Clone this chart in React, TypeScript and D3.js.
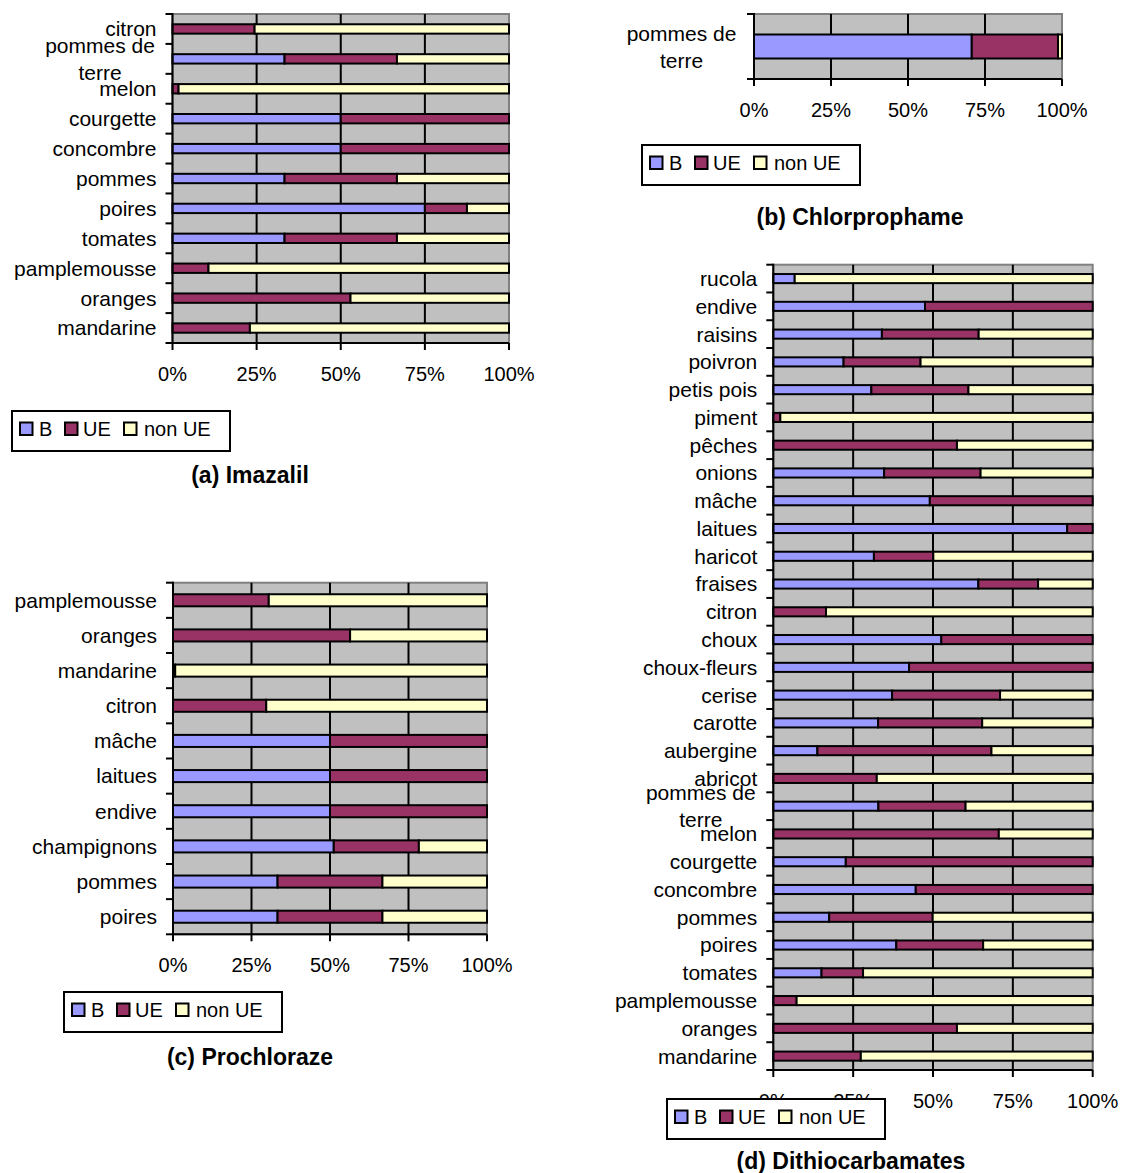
import React from 'react';
import * as d3 from 'd3';

const SERIES = ['B', 'UE', 'non UE'];
const COLORS = ['#9999FF', '#993366', '#FFFFCC'];
const X_TICKS = [0, 25, 50, 75, 100];

// (a) Imazalil — categories top to bottom
const catsA = ['citron', 'pommes de terre', 'melon', 'courgette', 'concombre', 'pommes', 'poires', 'tomates', 'pamplemousse', 'oranges', 'mandarine'];
const bA = [0, 33.3, 0, 50, 50, 33.3, 75, 33.3, 0, 0, 0];
const ueA = [24.4, 33.4, 1.8, 50, 50, 33.4, 12.5, 33.4, 10.7, 52.9, 23];
const nonA = [75.6, 33.3, 98.2, 0, 0, 33.3, 12.5, 33.3, 89.3, 47.1, 77];

// (b) Chlorprophame
const catsB = ['pommes de terre'];
const bB = [70.7];
const ueB = [28];
const nonB = [1.3];

// (c) Prochloraze
const catsC = ['pamplemousse', 'oranges', 'mandarine', 'citron', 'mâche', 'laitues', 'endive', 'champignons', 'pommes', 'poires'];
const bC = [0, 0, 0, 0, 50, 50, 50, 51.2, 33.3, 33.3];
const ueC = [30.5, 56.4, 0.7, 29.7, 50, 50, 50, 27.1, 33.4, 33.4];
const nonC = [69.5, 43.6, 99.3, 70.3, 0, 0, 0, 21.7, 33.3, 33.3];

// (d) Dithiocarbamates
const catsD = ['rucola', 'endive', 'raisins', 'poivron', 'petis pois', 'piment', 'pêches', 'onions', 'mâche', 'laitues', 'haricot', 'fraises', 'citron', 'choux', 'choux-fleurs', 'cerise', 'carotte', 'aubergine', 'abricot', 'pommes de terre', 'melon', 'courgette', 'concombre', 'pommes', 'poires', 'tomates', 'pamplemousse', 'oranges', 'mandarine'];
const bD = [6.7, 47.5, 34, 22, 30.7, 0, 0, 34.7, 49, 92, 31.5, 64.2, 0, 52.6, 42.5, 37.2, 32.8, 13.8, 0, 32.9, 0, 22.7, 44.6, 17.5, 38.5, 15.1, 0, 0, 0];
const ueD = [0, 52.5, 30.3, 24.1, 30.4, 2.2, 57.5, 30.2, 51, 8, 18.6, 18.7, 16.5, 47.4, 57.5, 33.8, 32.6, 54.5, 32.4, 27.3, 70.6, 77.3, 55.4, 32.4, 27.2, 13, 7.3, 57.5, 27.4];
const nonD = [93.3, 0, 35.7, 53.9, 38.9, 97.8, 42.5, 35.1, 0, 0, 49.9, 17.1, 83.5, 0, 0, 29, 34.6, 31.7, 67.6, 39.8, 29.4, 0, 0, 50.1, 34.3, 71.9, 92.7, 42.5, 72.6];

const FONT = 'Liberation Sans, Arial, Helvetica, sans-serif';

type PanelProps = {
  cats: string[];
  b: number[];
  ue: number[];
  non: number[];
  x0: number; x1: number; y0: number; y1: number;
  pad: number;
  legendX: number; legendY: number;
  title: string; titleX: number; titleY: number;
};

function Panel(p: PanelProps) {
  const x = d3.scaleLinear().domain([0, 100]).range([p.x0, p.x1]);
  const y = d3.scaleBand<string>().domain(p.cats).range([p.y0, p.y1]).paddingInner(p.pad).paddingOuter(p.pad / 2);
  const step = y.step();
  const rows = p.cats.map((c, i) => ({ cat: c, B: p.b[i], UE: p.ue[i], 'non UE': p.non[i] }));
  const stacked = d3.stack<any>().keys(SERIES)(rows);
  const boundaries = d3.range(p.cats.length + 1).map(i => p.y0 + i * step);
  const bw = y.bandwidth();

  return (
    <g>
      <rect x={p.x0} y={p.y0} width={p.x1 - p.x0} height={p.y1 - p.y0} fill="#C0C0C0" stroke="#808080" strokeWidth={2} />
      {X_TICKS.slice(1, -1).map(t => (
        <line key={'g' + t} x1={x(t)} x2={x(t)} y1={p.y0} y2={p.y1} stroke="#000" strokeWidth={2} />
      ))}
      {stacked.map((s, si) => (
        <g key={SERIES[si]}>
          {s.map((d, i) => {
            const w = x(d[1]) - x(d[0]);
            if (w <= 0.01) return null;
            return (
              <rect key={i} x={x(d[0])} y={(y(p.cats[i]) as number) + 1} width={w} height={bw - 2}
                fill={COLORS[si]} stroke="#000" strokeWidth={2} />
            );
          })}
        </g>
      ))}
      {/* left axis */}
      <line x1={p.x0} x2={p.x0} y1={p.y0 - 1} y2={p.y1 + 1} stroke="#000" strokeWidth={2} />
      {boundaries.map((by, i) => (
        <line key={'lt' + i} x1={p.x0 - 7} x2={p.x0} y1={by} y2={by} stroke="#000" strokeWidth={2} />
      ))}
      {/* bottom axis */}
      <line x1={p.x0} x2={p.x1} y1={p.y1} y2={p.y1} stroke="#000" strokeWidth={2} />
      {X_TICKS.map(t => (
        <g key={'bt' + t}>
          <line x1={x(t)} x2={x(t)} y1={p.y1} y2={p.y1 + 7} stroke="#000" strokeWidth={2} />
          <text x={x(t)} y={p.y1 + 38} textAnchor="middle" fontSize={20} fontFamily={FONT} fill="#000">{t + '%'}</text>
        </g>
      ))}
      {/* category labels */}
      {p.cats.map(c => {
        const cy = (y(c) as number) + bw / 2;
        const words = c.split(' ');
        if (words.length > 2) {
          const l1 = words.slice(0, -1).join(' ');
          const l2 = words[words.length - 1];
          return (
            <text key={'c' + c} x={p.x0 - 72.5} textAnchor="middle" fontSize={21} fontFamily={FONT} fill="#000">
              <tspan x={p.x0 - 72.5} y={cy - 6}>{l1}</tspan>
              <tspan x={p.x0 - 72.5} y={cy + 21}>{l2}</tspan>
            </text>
          );
        }
        return (
          <text key={'c' + c} x={p.x0 - 16} y={cy + 7.4} textAnchor="end" fontSize={21} fontFamily={FONT} fill="#000">{c}</text>
        );
      })}
      {/* legend */}
      <g transform={`translate(${p.legendX},${p.legendY})`}>
        <rect x={0} y={0} width={218} height={40} fill="#fff" stroke="#000" strokeWidth={2} />
        {SERIES.map((s, i) => {
          const sx = [8, 53, 112][i];
          const tx = [27, 71, 132][i];
          return (
            <g key={s}>
              <rect x={sx} y={11.5} width={12.5} height={12.5} fill={COLORS[i]} stroke="#000" strokeWidth={2} />
              <text x={tx} y={24.5} fontSize={20} fontFamily={FONT} fill="#000">{s}</text>
            </g>
          );
        })}
      </g>
      <text x={p.titleX} y={p.titleY} textAnchor="middle" fontSize={23} fontWeight="bold" fontFamily={FONT} fill="#000">{p.title}</text>
    </g>
  );
}

export default function App() {
  return (
    <svg width={1121} height={1173} style={{ position: 'absolute', left: 0, top: 0, background: '#fff' }}>
      <rect x={0} y={0} width={1121} height={1173} fill="#fff" />
      <Panel cats={catsA} b={bA} ue={ueA} non={nonA} x0={172.5} x1={509} y0={14} y1={343} pad={0.62}
        legendX={12} legendY={411} title="(a) Imazalil" titleX={250} titleY={483} />
      <Panel cats={catsB} b={bB} ue={ueB} non={nonB} x0={754} x1={1062} y0={14} y1={79} pad={0.6}
        legendX={642} legendY={145} title="(b) Chlorprophame" titleX={860} titleY={225} />
      <Panel cats={catsC} b={bC} ue={ueC} non={nonC} x0={173} x1={487} y0={582.7} y1={934.3} pad={0.6}
        legendX={64} legendY={992} title="(c) Prochloraze" titleX={250} titleY={1065} />
      <Panel cats={catsD} b={bD} ue={ueD} non={nonD} x0={773.3} x1={1092.7} y0={264.7} y1={1070} pad={0.6}
        legendX={667} legendY={1099} title="(d) Dithiocarbamates" titleX={851} titleY={1169} />
    </svg>
  );
}
